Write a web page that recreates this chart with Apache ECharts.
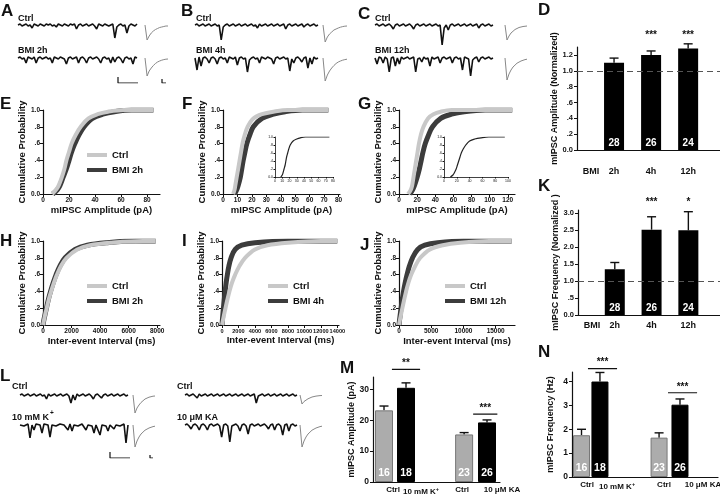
<!DOCTYPE html>
<html><head><meta charset="utf-8">
<script src="https://cdn.jsdelivr.net/npm/echarts@6/dist/echarts.min.js"></script>
<style>html,body{margin:0;padding:0;background:#fff}#c{width:720px;height:498px}</style>
</head><body><div id="c"></div>
<script>
// ---------- DATA ----------
// cumulative probability levels and the x-values where each curve reaches them
const probLevels = [0,0.05,0.1,0.2,0.3,0.4,0.5,0.6,0.7,0.8,0.9,0.95,0.98,1,1];
const E_ctrl = [7,10,12,14.5,16.5,18,20,22,25,29,35,42,50,62,85];
const E_bmi  = [7.5,11,13,15.5,18,20,22,24.5,27.5,31.5,38,46,55,68,85];
const F_ctrl = [7,8,8.5,9.5,10.5,11.5,12.5,13.5,15,17,21,27,35,45,73];
const F_bmi  = [8,9.5,10.5,12,13,14,15.2,16.5,18.5,21,27,35,43,55,73];
const F_ins  = [8,10,11,12.5,14,15,16,17.5,19,21,25,30,35,42,75];
const G_ctrl = [10,13,14.5,16,17.5,19,20.5,22,24,27,32,38,46,58,125];
const G_bmi  = [12,15,17,20,22.5,24.5,26.5,29,32.5,37,46,58,72,95,125];
const G_ins  = [10,14,16,19,21,23,25,27,30,34,40,48,58,70,95];
const H_ctrl = [0,60,120,260,400,570,760,980,1250,1650,2400,3300,4800,7000,7900];
const H_bmi  = [0,50,110,240,370,530,710,920,1180,1550,2250,3100,4500,6500,7900];
const I_ctrl = [0,100,200,420,650,900,1200,1600,2100,2800,4000,5500,8000,12000,14000];
const I_bmi  = [0,40,80,170,270,380,500,650,830,1100,1600,2400,4000,8000,14000];
const J_ctrl = [0,120,250,520,800,1100,1450,1900,2500,3300,4800,6800,9500,14000,17500];
const J_bmi  = [0,70,150,320,500,700,950,1250,1600,2100,2900,4000,6000,10000,17500];

// normalized bar panels D and K
const timeCats = ['2h','4h','12h'];
const D_vals = [1.10,1.20,1.28];
const D_err  = [0.06,0.05,0.06];
const K_vals = [1.35,2.52,2.50];
const K_err  = [0.20,0.38,0.55];
const nBMI   = [28,26,24];
const D_stars = ['','***','***'];
const K_stars = ['','***','*'];

// panels M and N
const condCats = ['Ctrl','10 mM K{s|+}','Ctrl','10 \u03bcM KA'];
const M_vals = [23.2,30.5,15.4,19.3];
const M_err  = [1.4,1.6,0.6,0.8];
const N_vals = [1.75,4.0,1.65,3.03];
const N_err  = [0.25,0.38,0.20,0.24];
const nCond  = [16,18,23,26];

// mIPSC traces (baseline 0, downward events, ~1 unit per pixel)
const trA1 = [0,1,-1,0,1,-1,0,-3,1,0,-1,1,0,-1,1,0,1,-1,0,-2,1,0,-1,1,0,-1,1,0,1,-4,0,1,-1,0,1,-1,0,1,-1,-4,1,0,-1,1,0,-1,0,1,-13,-2,0,1,-1,0,-8,-1,1,0,-1,1];
const trA2 = [0,1,-1,0,-5,1,0,-1,1,-5,0,1,-1,0,1,-1,0,-5,1,0,-1,1,0,-1,-6,0,1,-1,0,1,-5,0,1,-1,-5,0,1,-1,0,1,-1,-5,0,1,-1,0,-5,1,-4,0,1,-1,-5,0,1,-1,0,-6,1,0];
const trB1 = [0,1,-1,0,1,-1,0,1,-1,0,1,-1,0,-15,-2,0,1,-1,0,1,-1,0,1,-1,0,1,-1,0,1,-1,0,-3,1,-1,0,1,-1,0,1,-1,0,1,-1,0,1,-4,0,1,-1,0,1,-1,0,1,-2,0,1,-1,0,1,-1,0];
const trB2 = [0,-12,1,-8,0,1,-1,-5,0,1,-1,-6,0,1,-1,0,-5,1,0,-1,1,-7,0,1,-1,0,-14,-2,0,1,-1,0,-5,1,0,-1,1,0,-1,-6,0,1,-1,0,1,-1,0,-13,-1,-5,0,1,-1,-4,0,1,-10,0,-6,1,-1,0];
const trC1 = [0,1,-1,0,1,-1,0,1,-1,-4,0,1,-1,0,1,-1,0,1,-1,-4,0,1,-1,0,1,-1,0,1,-1,0,1,-1,0,-20,-3,0,-5,0,1,-1,0,1,-1,0,1,-1,0,1,-1,0,1,-3,0,1,-1,0,1,-1,0];
const trC2 = [0,-6,1,0,-5,1,-1,-14,0,1,-8,0,-6,1,-1,0,1,-1,0,1,-14,-1,0,-4,1,-1,0,-8,1,-1,0,1,-5,0,1,-1,0,1,-5,0,1,-1,0,-12,1,0,-1,-18,-2,0,1,-4,0,1,-1,0,1,-1,0];
const trL1 = [0,1,-1,0,1,-1,0,1,-1,0,1,-1,0,-4,1,-1,0,1,-1,0,1,-1,0,1,-1,-8,0,-5,1,-1,0,1,-1,0,1,-1,-4,0,1,-1,-3,0,1,-1,0,1,-1,0,1,-1,0,1,-1,0];
const trL2 = [0,1,-1,0,1,-13,0,-5,1,-1,0,-8,1,-1,0,-12,0,1,-1,0,1,-1,0,1,-5,1,-6,0,1,-1,0,1,-1,-5,0,1,-1,-8,0,1,-10,0,1,-1,-6,0,1,-4,0,1,-1,0,1,-18,0];
const trL3 = [0,1,-1,0,1,-1,-3,1,-1,0,1,-1,0,1,-1,0,1,-1,0,1,-1,0,1,-1,0,1,-1,0,1,-1,0,1,-1,0,1,-8,-1,0,1,-1,0,1,-1,0,1,-1,0,1,-1,0,1,-1,0,1,-1,0];
const trL4 = [0,1,-1,-4,0,1,-1,-5,0,1,-1,-5,0,1,-1,0,1,-1,-12,0,1,-1,-17,-1,0,1,-1,-6,0,1,-1,-9,0,1,-1,0,1,-1,0,1,-1,-4,0,1,-5,0,1,-1,-10,0,1,-6,0,1,-1,0];
// averaged mIPSCs (insets)
const avA1 = [0,-15,-11,-8,-6,-4.5,-3.5,-2.5,-2,-1.5,-1,-1];
const avA2 = [0,-18,-13,-10,-7.5,-5.5,-4,-3,-2.2,-1.6,-1.2,-1];
const avB1 = [0,-17,-12,-9,-7,-5,-4,-3,-2.2,-1.6,-1.2,-1];
const avB2 = [0,-23,-17,-13,-10,-7.5,-5.5,-4,-3,-2.2,-1.6,-1.2];
const avC1 = [0,-15,-11,-8,-6,-4.5,-3.5,-2.5,-2,-1.5,-1,-1];
const avC2 = [0,-22,-16,-12,-9,-7,-5.2,-4,-3,-2.2,-1.6,-1.2];
const avL1 = [0,-18,-13,-10,-7.5,-5.5,-4,-3,-2.2,-1.6,-1.2,-1];
const avL2 = [0,-22,-16,-12,-9,-7,-5.2,-4,-3,-2.2,-1.6,-1.2];
const avL3 = [0,-9,-6.5,-5,-3.8,-2.8,-2,-1.5,-1.1,-0.8,-0.6,-0.5];
const avL4 = [0,-22,-16,-12,-9,-7,-5.2,-4,-3,-2.2,-1.6,-1.2];
const scaleBarL = [[0,1],[0,0],[1,0]];

// ---------- BUILD ----------
const FONT = 'Liberation Sans';
const grids = [], xAxes = [], yAxes = [], series = [], graphics = [], legends = [];
function addGrid(g, xa, ya) {
  grids.push(Object.assign({containLabel:false}, g));
  const i = grids.length - 1;
  xAxes.push(Object.assign({gridIndex:i}, xa));
  yAxes.push(Object.assign({gridIndex:i}, ya));
  return i;
}
const hiddenAxis = (min,max) => ({type:'value',min,max,show:false,splitLine:{show:false}});
const axLine = {show:true,lineStyle:{color:'#111',width:1.2}};
const tick = {show:true,length:3,lineStyle:{color:'#111',width:1}};
const lblStyle = (fs) => ({color:'#111',fontFamily:FONT,fontWeight:'bold',fontSize:fs});
const probFmt = v => v===0 ? '0.0' : (v>=0.999 ? v.toFixed(1) : '.'+Math.round(v*10));
const plainFmt = v => String(v);

function text(x,y,t,fs,extra) {
  graphics.push({type:'text',left:x,top:y,style:Object.assign({text:t,fontFamily:FONT,fontWeight:'bold',fontSize:fs,fill:'#111'},extra||{})});
}

// panel letters
[['A',1,3],['B',181,3],['C',358,6],['D',538,2],['E',0,96],['F',182,96],['G',358,96],
 ['H',0,233],['I',182,233],['J',360,237],['K',538,178],['L',0,368],['M',340,360],['N',538,344]]
 .forEach(([t,x,y]) => text(x,y,t,17));

// traces
function trace(arr, x0, w, base, color, lw) {
  const i = addGrid({left:x0,top:base-4,width:w,height:34}, hiddenAxis(0,arr.length-1), hiddenAxis(-30,4));
  series.push({type:'line',xAxisIndex:i,yAxisIndex:i,data:arr.map((v,k)=>[k,v]),showSymbol:false,
    lineStyle:{color:color||'#111',width:lw||1.6},silent:true,animation:false});
}
function scaleBar(x0,y0,w,h) {
  const i = addGrid({left:x0,top:y0,width:w,height:h}, hiddenAxis(0,1), hiddenAxis(0,1));
  series.push({type:'line',xAxisIndex:i,yAxisIndex:i,data:scaleBarL,showSymbol:false,
    lineStyle:{color:'#111',width:1.2},animation:false});
}
trace(trA1,18,119,25); trace(trA2,18,119,58);
trace(trB1,195,123,25); trace(trB2,195,123,58);
trace(trC1,375,118,25); trace(trC2,375,118,58);
trace(avA1,145,23,25,'#888',1); trace(avA2,145,23,58,'#888',1);
trace(avB1,323,24,25,'#888',1); trace(avB2,323,24,58,'#888',1);
trace(avC1,505,22,25,'#888',1); trace(avC2,505,22,58,'#888',1);
trace(trL1,20,108,395); trace(trL2,20,108,425);
trace(trL3,185,112,395); trace(trL4,185,112,425);
trace(avL1,133,22,395,'#888',1); trace(avL2,133,22,425,'#888',1);
trace(avL3,300,22,395,'#888',1); trace(avL4,300,22,425,'#888',1);
scaleBar(118,77,20,6); scaleBar(162,79,4,4);
scaleBar(110,452,20,6); scaleBar(150,455,3,3);

text(18,14,'Ctrl',9); text(18,46,'BMI 2h',9);
text(196,14,'Ctrl',9); text(196,46,'BMI 4h',9);
text(375,14,'Ctrl',9); text(375,46,'BMI 12h',9);
text(12,382,'Ctrl',9); text(12,413,'10 mM K',9); text(50,410,'+',6.5);
text(177,382,'Ctrl',9); text(177,413,'10 \u03bcM KA',9);

// cumulative panels
function cumPanel(g, xmax, ticks, xname, ctrl, trt, trtName, legendPos, tfs) {
  const i = addGrid(g,
    {type:'value',min:0,max:xmax,axisLine:axLine,axisTick:Object.assign({customValues:ticks},tick),
     axisLabel:Object.assign({customValues:ticks,margin:3,formatter:plainFmt},lblStyle(tfs||6.5)),splitLine:{show:false},
     name:xname,nameLocation:'middle',nameGap:10,nameTextStyle:lblStyle(9.5)},
    {type:'value',min:0,max:1,interval:0.2,axisLine:axLine,axisTick:tick,
     axisLabel:Object.assign({formatter:probFmt,margin:3},lblStyle(6.5)),splitLine:{show:false},
     name:'Cumulative Probability',nameLocation:'middle',nameGap:16,nameTextStyle:lblStyle(9.5)});
  series.push({type:'line',name:trtName,xAxisIndex:i,yAxisIndex:i,data:probLevels.map((p,k)=>[trt[k],p]),
    smooth:0.35,showSymbol:false,color:'#3c3c3c',lineStyle:{color:'#3c3c3c',width:5},animation:false});
  series.push({type:'line',name:'Ctrl',xAxisIndex:i,yAxisIndex:i,data:probLevels.map((p,k)=>[ctrl[k],p]),
    smooth:0.35,showSymbol:false,color:'#c8c8c8',lineStyle:{color:'#c8c8c8',width:4},animation:false});
  if (legendPos) legends.push({left:legendPos[0],top:legendPos[1],orient:'vertical',icon:'rect',itemWidth:20,itemHeight:4,
    padding:0,itemGap:5,data:['Ctrl',trtName],textStyle:lblStyle(9.5),selectedMode:false});
}
function insetPanel(g, xmax, ticks, vals) {
  const s = {color:'#111',fontFamily:FONT,fontSize:3.5};
  const i = addGrid(g,
    {type:'value',min:0,max:xmax,axisLine:{lineStyle:{color:'#111',width:0.8}},axisTick:{customValues:ticks,length:1.5},
     axisLabel:Object.assign({customValues:ticks,margin:2},s),splitLine:{show:false}},
    {type:'value',min:0,max:1,interval:0.2,axisLine:{show:true,lineStyle:{color:'#111',width:0.8}},axisTick:{show:true,length:1.5},
     axisLabel:Object.assign({formatter:probFmt,margin:2},s),splitLine:{show:false}});
  series.push({type:'line',xAxisIndex:i,yAxisIndex:i,data:probLevels.map((p,k)=>[vals[k],p]),smooth:0.35,
    showSymbol:false,lineStyle:{color:'#222',width:1.2},animation:false});
}
const ampName = 'mIPSC Amplitude (pA)', iviName = 'Inter-event Interval (ms)';
cumPanel({left:43,top:110,width:117,height:84},90,[0,20,40,60,80],ampName,E_ctrl,E_bmi,'BMI 2h',[87,150]);
cumPanel({left:223,top:110,width:117,height:84},81,[0,10,20,30,40,50,60,70,80],ampName,F_ctrl,F_bmi,'BMI 4h',null);
cumPanel({left:399,top:110,width:116,height:84},128,[0,20,40,60,80,100,120],ampName,G_ctrl,G_bmi,'BMI 12h',null);
insetPanel({left:275,top:137,width:58,height:40},80,[0,10,20,30,40,50,60,70,80],F_ins);
insetPanel({left:444,top:137,width:64,height:40},100,[0,20,40,60,80,100],G_ins);
cumPanel({left:43,top:241,width:117,height:84},8200,[0,2000,4000,6000,8000],iviName,H_ctrl,H_bmi,'BMI 2h',[87,281]);
cumPanel({left:222,top:241,width:117,height:84},14200,[0,2000,4000,6000,8000,10000,12000,14000],iviName,I_ctrl,I_bmi,'BMI 4h',[268,281],5.6);
cumPanel({left:399,top:241,width:116,height:84},18000,[0,5000,10000,15000],iviName,J_ctrl,J_bmi,'BMI 12h',[445,281]);

// bar panels helpers
function errSeries(i, xs, vals, errs, color) {
  series.push({type:'custom',xAxisIndex:i,yAxisIndex:i,data:xs.map((x,k)=>[x,vals[k]]),animation:false,z:1,
    renderItem:(p,api)=>{
      const x=api.value(0), y=api.value(1), e=errs[p.dataIndex];
      const a=api.coord([x,y]), b=api.coord([x,y+e]);
      const st={stroke:color||'#111',lineWidth:1.4};
      return {type:'group',children:[
        {type:'line',shape:{x1:a[0],y1:a[1],x2:b[0],y2:b[1]},style:st},
        {type:'line',shape:{x1:b[0]-4.5,y1:b[1],x2:b[0]+4.5,y2:b[1]},style:st}]};
    }});
}
function starSeries(i, xs, ytop, stars, dy) {
  series.push({type:'custom',xAxisIndex:i,yAxisIndex:i,data:xs.map(x=>[x,ytop]),animation:false,
    renderItem:(p,api)=>{
      const c=api.coord([api.value(0),api.value(1)]);
      return {type:'text',style:{text:stars[p.dataIndex],x:c[0],y:c[1]-dy,align:'center',verticalAlign:'middle',
        fontFamily:FONT,fontWeight:'bold',fontSize:10,fill:'#111'}};
    }});
}
function normPanel(g, ymax, yTicks, yFmt, yname, vals, errs, stars, xMargin, starDy) {
  const xs = timeCats.map((c,k)=>k+1);
  const labelPos = [0.38].concat(xs);
  const labelTxt = ['BMI'].concat(timeCats);
  const i = addGrid(g,
    {type:'value',min:0,max:3.86,axisLine:axLine,axisTick:{show:false},splitLine:{show:false},
     axisLabel:Object.assign({customValues:labelPos,margin:xMargin,formatter:v=>labelTxt[labelPos.findIndex(q=>Math.abs(q-v)<1e-6)]},lblStyle(9))},
    {type:'value',min:0,max:ymax,axisLine:axLine,axisTick:Object.assign({customValues:yTicks},tick),splitLine:{show:false},
     axisLabel:Object.assign({customValues:yTicks,formatter:yFmt,margin:4},lblStyle(7.5)),
     name:yname,nameLocation:'middle',nameGap:17,nameTextStyle:lblStyle(9)});
  series.push({type:'bar',xAxisIndex:i,yAxisIndex:i,data:xs.map((x,k)=>[x,vals[k]]),barWidth:20,z:2,animation:false,
    itemStyle:{color:'#000'},
    label:{show:true,position:'insideBottom',distance:2,formatter:p=>nBMI[p.dataIndex],color:'#fff',fontFamily:FONT,fontWeight:'bold',fontSize:10},
    markLine:{silent:true,symbol:'none',label:{show:false},lineStyle:{color:'#555',type:[6,4],width:1.2},data:[{yAxis:1}]}});
  errSeries(i, xs, vals, errs);
  starSeries(i, xs, ymax, stars, starDy);
}
normPanel({left:577,top:47,width:143,height:103},1.3,[0,0.2,0.4,0.6,0.8,1.0,1.2],probFmt,
  'mIPSC Amplitude (Normalized)',D_vals,D_err,D_stars,17,12);
normPanel({left:578,top:210,width:142,height:105},3.1,[0,0.5,1,1.5,2,2.5,3],
  v=>v===0?'0.0':(v===0.5?'.5':v.toFixed(1)),'mIPSC Frequency (Normalized )',K_vals,K_err,K_stars,6,8);

// M and N
function condPanel(g, xmax, ymax, yTicks, yname, vals, errs, barPos, labPos, bw, brackets) {
  const i = addGrid(g,
    {type:'value',min:0,max:xmax,axisLine:axLine,axisTick:{show:false},axisLabel:{show:false},splitLine:{show:false}},
    {type:'value',min:0,max:ymax,axisLine:axLine,axisTick:Object.assign({customValues:yTicks},tick),splitLine:{show:false},
     axisLabel:Object.assign({customValues:yTicks,margin:4},lblStyle(8.5)),
     name:yname,nameLocation:'middle',nameGap:17,nameTextStyle:lblStyle(9)});
  series.push({type:'bar',xAxisIndex:i,yAxisIndex:i,barWidth:bw,z:2,animation:false,
    data:barPos.map((x,k)=>({value:[x,vals[k]],itemStyle:{color:k%2?'#000':'#acacac',borderColor:k%2?'#000':'#777',borderWidth:1}})),
    label:{show:true,position:'insideBottom',distance:3,formatter:p=>nCond[p.dataIndex],
      color:'#fff',fontFamily:FONT,fontWeight:'bold',fontSize:10.5}});
  errSeries(i, barPos, vals, errs);
  // category labels under the axis
  series.push({type:'custom',xAxisIndex:i,yAxisIndex:i,data:labPos.map(x=>[x,0]),animation:false,clip:false,
    renderItem:(p,api)=>{const c=api.coord([api.value(0),0]);
      return {type:'text',style:{text:condCats[p.dataIndex],x:c[0],y:c[1]+4,align:'center',verticalAlign:'top',
        fontFamily:FONT,fontWeight:'bold',fontSize:8,fill:'#111',
        rich:{s:{fontSize:5.5,fontWeight:'bold',fontFamily:FONT,fill:'#111',verticalAlign:'top',padding:[0,0,5,0]}}}};}});
  brackets.forEach(b=>{
    series.push({type:'line',xAxisIndex:i,yAxisIndex:i,data:[[b[0],b[2]],[b[1],b[2]]],showSymbol:false,
      lineStyle:{color:'#111',width:1.2},animation:false,clip:false});
    series.push({type:'custom',xAxisIndex:i,yAxisIndex:i,data:[[(b[0]+b[1])/2,b[2]]],animation:false,clip:false,
      renderItem:(p,api)=>{const c=api.coord([api.value(0),api.value(1)]);
        return {type:'text',style:{text:b[3],x:c[0],y:c[1]-6,align:'center',verticalAlign:'middle',fontFamily:FONT,fontWeight:'bold',fontSize:10,fill:'#111'}};}});
  });
}
condPanel({left:373,top:377,width:127,height:105},5.77,34,[0,10,20,30],'mIPSC Amplitude (pA)',M_vals,M_err,
  [0.5,1.5,4.14,5.18],[0.91,2.18,4.05,5.86],18,
  [[0.86,2.14,36.5,'**'],[4.55,5.65,22.0,'***']]);
condPanel({left:572,top:372,width:146,height:105},7.68,4.4,[0,1,2,3,4],'mIPSC Frequency (Hz)',N_vals,N_err,
  [0.5,1.47,4.58,5.68],[0.79,2.37,4.84,6.89],17,
  [[0.84,2.37,4.54,'***'],[5.05,6.58,3.53,'***']]);

const chart = echarts.init(document.getElementById('c'), null, {renderer:'canvas'});
chart.setOption({backgroundColor:'#fff',animation:false,grid:grids,xAxis:xAxes,yAxis:yAxes,series,legend:legends,graphic:graphics});
</script></body></html>
